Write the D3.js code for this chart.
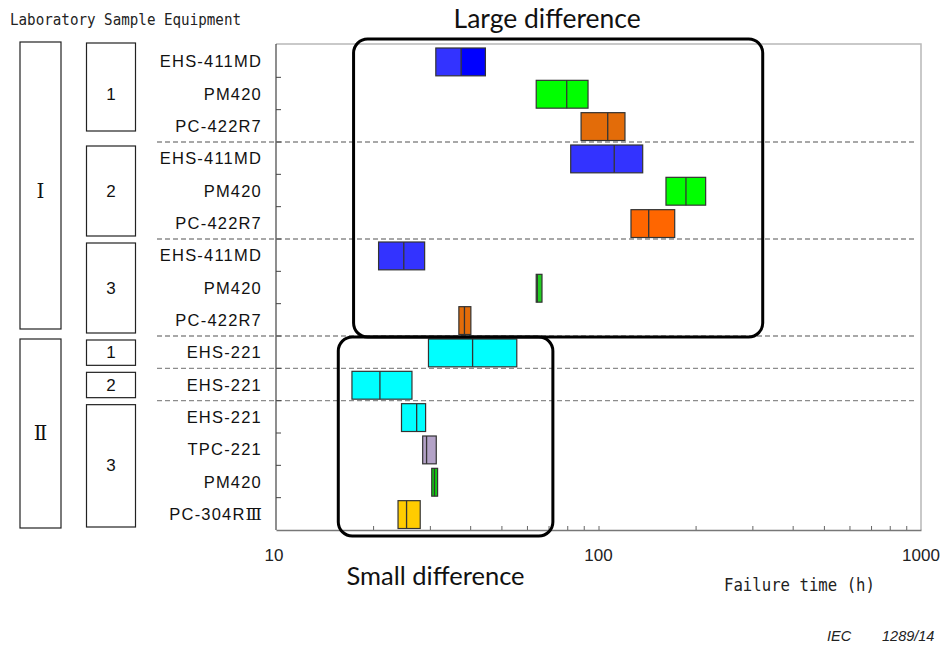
<!DOCTYPE html>
<html>
<head>
<meta charset="utf-8">
<script src="https://cdn.jsdelivr.net/npm/d3@7"></script>
<style>
  html, body { margin: 0; padding: 0; background: #fff; }
  svg { display: block; }
</style>
</head>
<body>
<div id="chart"></div>
<script>
// ---------------- data ----------------
const equipment = ["EHS-411MD","PM420","PC-422R7","EHS-411MD","PM420","PC-422R7","EHS-411MD","PM420","PC-422R7",
                   "EHS-221","EHS-221","EHS-221","TPC-221","PM420","PC-304RⅢ"];
const lowValues    = [31.3, 64.1,  88.3,  82.0, 161.9, 126.1, 20.8, 64.1, 36.9, 29.7, 17.2, 24.5, 28.5, 30.4, 23.9];
const medianValues = [37.5, 79.7, 106.8, 111.9, 186.7, 143.1, 24.9, 64.6, 38.4, 40.7, 21.0, 27.3, 29.3, 31.0, 25.4];
const highValues   = [44.6, 92.8, 120.8, 137.1, 214.9, 172.3, 28.9, 66.8, 40.2, 55.8, 26.4, 29.1, 31.4, 31.7, 28.0];
const leftColors   = ["#3333ff","#00ff00","#e36c09","#3333ff","#00ff00","#ff6600","#3333ff","#22cc22","#e36c09",
                      "#00ffff","#00ffff","#00ffff","#b3a2c7","#11cc11","#ffcc00"];
const rightColors  = ["#0000ff","#00ff00","#e36c09","#3333ff","#00ff00","#ff6600","#3333ff","#22cc22","#e36c09",
                      "#00ffff","#00ffff","#00ffff","#b3a2c7","#11cc11","#ffcc00"];
const labNames   = ["Ⅰ","Ⅱ"];
const labStart   = [0, 9];
const labEnd     = [9, 15];
const sampleNames = ["1","2","3","1","2","3"];
const sampleStart = [0, 3, 6, 9, 10, 11];
const sampleEnd   = [3, 6, 9, 10, 11, 15];
const xTickLabels = [10, 100, 1000];
const headers = ["Laboratory", "Sample", "Equipment"];
const annotations = [
  {text: "Large difference", x0: 17.4, x1: 323, r0: 0, r1: 9, above: true},
  {text: "Small difference", x0: 15.6, x1: 72.2, r0: 9, r1: 15, above: false}
];

// ---------------- layout ----------------
const W = 942, H = 646;
const svg = d3.select("#chart").append("svg").attr("width", W).attr("height", H)
  .style("background", "#fff");

const x = d3.scaleLog().domain([10, 1000]).range([276, 921]);
const y = d3.scaleLinear().domain([0, 15]).range([45, 530]);
const nRows = equipment.length;

// plot frame (top + right light gray)
svg.append("path")
  .attr("d", `M${x(10)},${y(0)-1}H${x(1000)}V${y(15)}`)
  .attr("fill", "none").attr("stroke", "#b8b8b8").attr("stroke-width", 1.5);

// dashed group separators
const sepRows = sampleEnd.slice(0, -1);
svg.append("g").selectAll("line").data(sepRows).join("line")
  .attr("x1", 157).attr("x2", 915)
  .attr("y1", d => y(d)).attr("y2", d => y(d))
  .attr("stroke", "#8c8c8c").attr("stroke-width", 1.3)
  .attr("stroke-dasharray", "5,3");

// left axis
svg.append("line").attr("x1", x(10)).attr("x2", x(10)).attr("y1", y(0)-1).attr("y2", y(15))
  .attr("stroke", "#444").attr("stroke-width", 1.2);
svg.append("g").selectAll("line").data(d3.range(1, nRows)).join("line")
  .attr("x1", x(10)).attr("x2", x(10) + 5)
  .attr("y1", d => y(d)).attr("y2", d => y(d))
  .attr("stroke", "#444").attr("stroke-width", 1);

// bottom axis
const xAxis = d3.axisBottom(x)
  .tickValues([20,30,40,50,60,70,80,90,100,200,300,400,500,600,700,800,900])
  .tickSizeInner(-4).tickSizeOuter(0).tickFormat("");
const gx = svg.append("g").attr("transform", `translate(0,${y(15)})`).call(xAxis);
gx.select(".domain").attr("stroke", "#777").attr("stroke-width", 1.5);
gx.selectAll(".tick line").attr("stroke", "#666").attr("stroke-width", 1);

svg.append("g").selectAll("text").data(xTickLabels).join("text")
  .attr("x", d => x(d) - (d === 10 ? 2 : 0)).attr("y", 561)
  .attr("text-anchor", "middle")
  .attr("font-family", "Liberation Sans, Arial, sans-serif").attr("font-size", 17)
  .attr("fill", "#222")
  .text(d => d);

svg.append("text").attr("x", 724).attr("y", 591)
  .attr("font-family", "DejaVu Sans Mono, monospace").attr("font-size", 17)
  .attr("textLength", 151).attr("lengthAdjust", "spacingAndGlyphs")
  .attr("fill", "#222").text("Failure time (h)");

// bars
const bars = svg.append("g").selectAll("g").data(d3.range(nRows)).join("g");
const barTop = i => y(i) + 3;
const barH = i => y(i + 1) - 1.5 - barTop(i);
bars.append("rect")
  .attr("x", i => x(lowValues[i])).attr("y", barTop)
  .attr("width", i => x(medianValues[i]) - x(lowValues[i])).attr("height", barH)
  .attr("fill", i => leftColors[i]);
bars.append("rect")
  .attr("x", i => x(medianValues[i])).attr("y", barTop)
  .attr("width", i => x(highValues[i]) - x(medianValues[i])).attr("height", barH)
  .attr("fill", i => rightColors[i]);
bars.append("rect")
  .attr("x", i => x(lowValues[i])).attr("y", barTop)
  .attr("width", i => x(highValues[i]) - x(lowValues[i])).attr("height", barH)
  .attr("fill", "none").attr("stroke", "#333").attr("stroke-width", 1.2);
bars.append("line")
  .attr("x1", i => x(medianValues[i])).attr("x2", i => x(medianValues[i]))
  .attr("y1", barTop).attr("y2", i => barTop(i) + barH(i))
  .attr("stroke", "#333").attr("stroke-width", 1.3);

// equipment labels (Roman numerals set in a serif face)
const eqLabels = svg.append("g").selectAll("text").data(d3.range(nRows)).join("text")
  .attr("x", 262).attr("y", i => (y(i) + y(i + 1)) / 2 + 6)
  .attr("text-anchor", "end")
  .attr("font-family", "Liberation Sans, Arial, sans-serif").attr("font-size", 16.5)
  .attr("letter-spacing", 1.2)
  .attr("fill", "#111");
eqLabels.each(function(i) {
  const parts = equipment[i].split(/([Ⅰ-Ⅻ]+)/).filter(s => s.length);
  const t = d3.select(this);
  parts.forEach(p => {
    const ts = t.append("tspan").text(p);
    if (/[Ⅰ-Ⅻ]/.test(p)) ts.attr("font-family", "DejaVu Serif, serif").attr("font-size", 17).attr("letter-spacing", 0);
  });
});

// headers
svg.append("text").attr("x", 10).attr("y", 25)
  .attr("font-family", "DejaVu Sans Mono, monospace").attr("font-size", 16)
  .attr("textLength", 231).attr("lengthAdjust", "spacingAndGlyphs")
  .attr("fill", "#222")
  .text(headers[0] + " " + headers[1] + "  " + headers[2]);

// laboratory boxes
const labG = svg.append("g").selectAll("g").data(d3.range(labNames.length)).join("g");
labG.append("rect")
  .attr("x", 20).attr("width", 41)
  .attr("y", i => y(labStart[i]) + (i === 0 ? -3 : 3))
  .attr("height", i => y(labEnd[i]) - y(labStart[i]) - (i === 0 ? 4 : 5))
  .attr("fill", "none").attr("stroke", "#222").attr("stroke-width", 1.2);
labG.append("text")
  .attr("x", 40.5).attr("y", i => (y(labStart[i]) + y(labEnd[i])) / 2 + 7)
  .attr("text-anchor", "middle")
  .attr("font-family", "DejaVu Serif, serif").attr("font-size", 20)
  .attr("fill", "#111").text(i => labNames[i]);

// sample boxes
const smpG = svg.append("g").selectAll("g").data(d3.range(sampleNames.length)).join("g");
smpG.append("rect")
  .attr("x", 86.5).attr("width", 49)
  .attr("y", i => y(sampleStart[i]) + (i === 0 ? -2 : 4))
  .attr("height", i => y(sampleEnd[i]) - y(sampleStart[i]) - (i === 0 ? 9 : 7))
  .attr("fill", "none").attr("stroke", "#222").attr("stroke-width", 1.2);
smpG.append("text")
  .attr("x", 111).attr("y", i => (y(sampleStart[i]) + y(sampleEnd[i])) / 2 + 6)
  .attr("text-anchor", "middle")
  .attr("font-family", "Liberation Sans, Arial, sans-serif").attr("font-size", 17)
  .attr("fill", "#111").text(i => sampleNames[i]);

// annotation rounded boxes
annotations.forEach(a => {
  const top = a.above ? y(a.r0) - 6 : y(a.r0) + 1;
  const bot = a.above ? y(a.r1) + 1 : y(a.r1) + 6;
  svg.append("rect")
    .attr("x", x(a.x0)).attr("y", top)
    .attr("width", x(a.x1) - x(a.x0)).attr("height", bot - top)
    .attr("rx", 14).attr("ry", 14)
    .attr("fill", "none").attr("stroke", "#000").attr("stroke-width", 3);
  svg.append("text")
    .attr("x", (x(a.x0) + x(a.x1)) / 2 + (a.above ? -11 : -10))
    .attr("y", a.above ? top - 11 : bot + 49)
    .attr("text-anchor", "middle")
    .attr("font-family", "Lato, Open Sans, sans-serif").attr("font-size", a.above ? 26.5 : 25.5)
    .attr("fill", "#111").text(a.text);
});

// IEC reference
svg.append("text").attr("x", 827).attr("y", 641)
  .attr("font-family", "Liberation Sans, Arial, sans-serif").attr("font-size", 14.5)
  .attr("font-style", "italic").attr("fill", "#222")
  .text("IEC");
svg.append("text").attr("x", 882).attr("y", 641)
  .attr("font-family", "Liberation Sans, Arial, sans-serif").attr("font-size", 14.5)
  .attr("font-style", "italic").attr("fill", "#222")
  .text("1289/14");
</script>
</body>
</html>
